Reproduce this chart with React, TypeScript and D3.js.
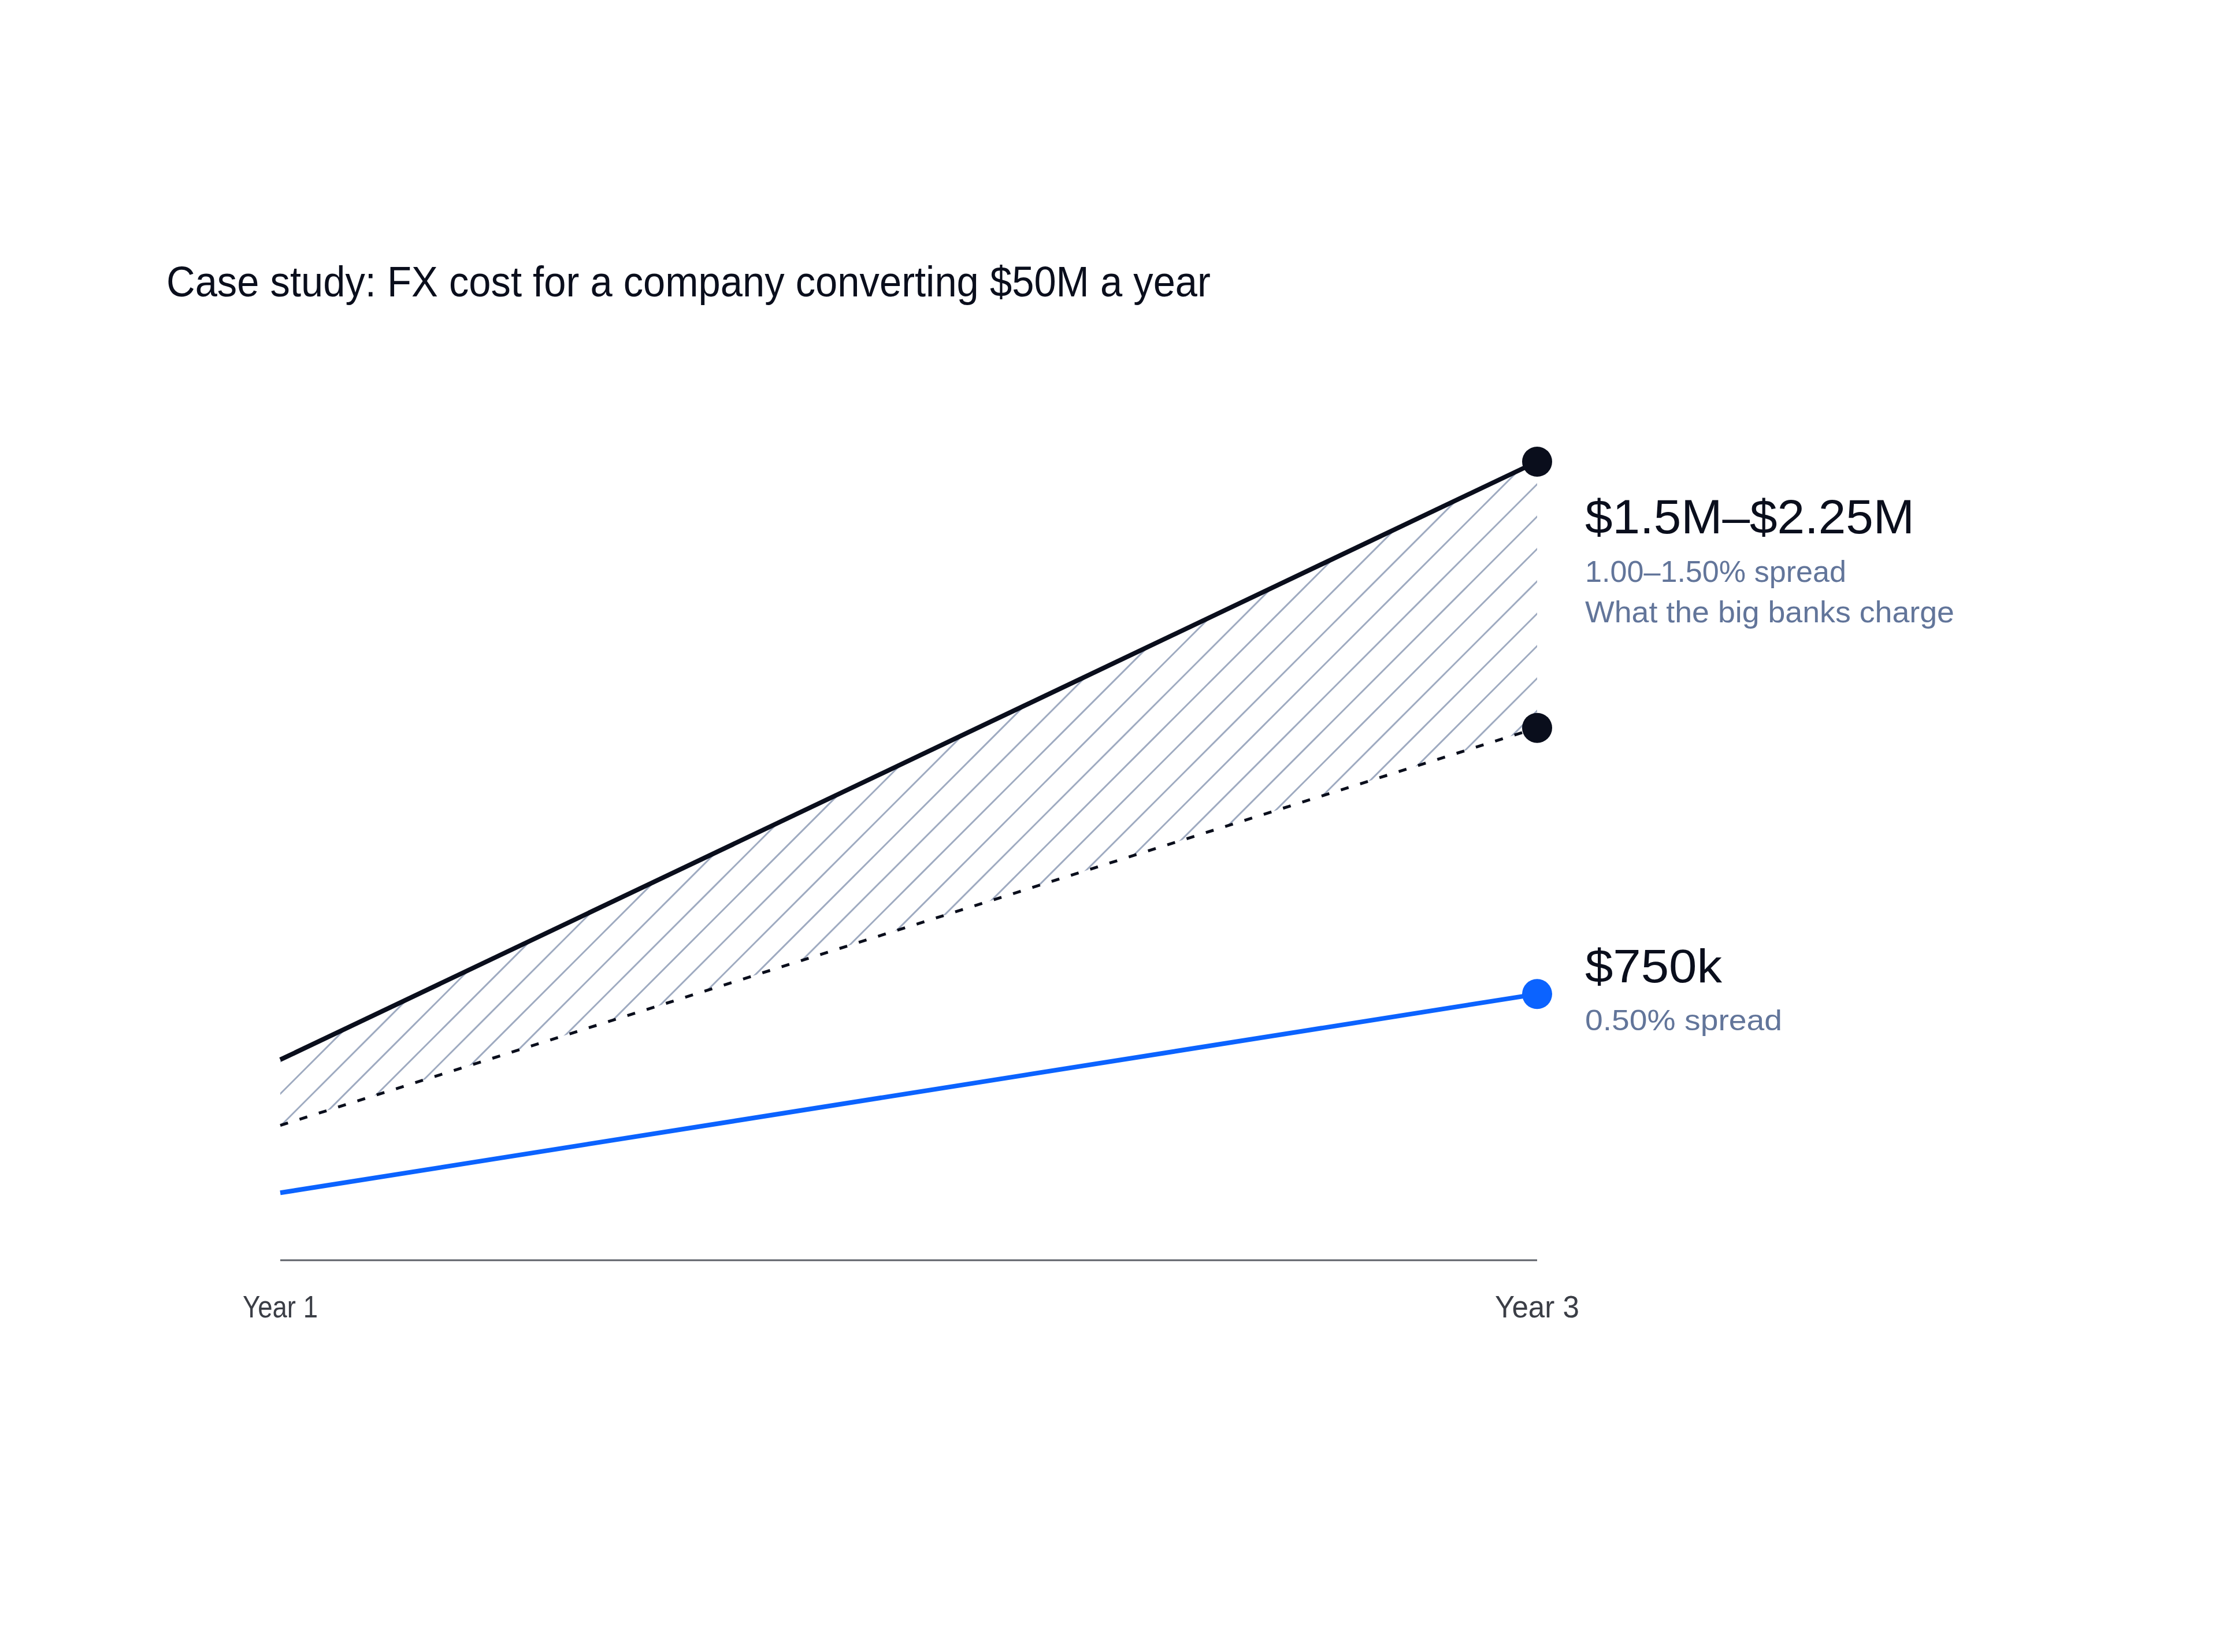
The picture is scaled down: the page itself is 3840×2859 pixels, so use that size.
import * as d3 from 'd3';

const years = ['Year 1', 'Year 3'];
// cumulative FX cost, $M
const bankHigh = [0.565, 2.25];
const bankLow = [0.38, 1.5];
const ourCost = [0.19, 0.75];

const title = 'Case study: FX cost for a company converting $50M a year';
const bankHeadline = '$1.5M–$2.25M';
const bankNotes = ['1.00–1.50% spread', 'What the big banks charge'];
const ourHeadline = '$750k';
const ourNotes = ['0.50% spread'];

const W = 3840;
const H = 2859;
const INK = '#0a0e1c';
const SLATE = '#62759a';
const HATCH = '#9eaac0';
const BLUE = '#0b63ff';
const FONT = '"Liberation Sans", Arial, sans-serif';

export default function App() {
  const x = d3.scalePoint<string>().domain(years).range([485, 2660]);
  const y = d3.scaleLinear().domain([0, 2.25]).range([2181, 799]);

  const pts = (vals: number[]) => years.map((yr, i) => [x(yr) as number, y(vals[i])] as [number, number]);
  const line = d3.line();
  const band = d3
    .area<number>()
    .x((_, i) => x(years[i]) as number)
    .y0((_, i) => y(bankLow[i]))
    .y1((d) => y(d));

  const x0 = x(years[0]) as number;
  const x1 = x(years[years.length - 1]) as number;
  const lastI = years.length - 1;

  // 45deg hatch lines, clipped to the band
  const hatchOffsets = d3.range(2378 - 56 * 20, 2378 + 56 * 50, 56);

  return (
    <svg
      width={W}
      height={H}
      viewBox={`0 0 ${W} ${H}`}
      style={{ position: 'absolute', left: 0, top: 0, background: '#fff' }}
      fontFamily={FONT}
    >
      <defs>
        <clipPath id="band-clip">
          <path d={band(bankHigh) ?? ''} />
        </clipPath>
      </defs>

      <text x={288} y={513} fontSize={75} fill={INK} textLength={1807} lengthAdjust="spacingAndGlyphs">
        {title}
      </text>

      <g clipPath="url(#band-clip)">
        {hatchOffsets.map((c) => (
          <line key={c} x1={x0 - 20} y1={c - x0 + 20} x2={x1 + 20} y2={c - x1 - 20} stroke={HATCH} strokeWidth={3} />
        ))}
      </g>

      <line x1={x0} x2={x1} y1={y(0)} y2={y(0)} stroke="#5d6068" strokeWidth={3} />

      <path d={line(pts(bankLow)) ?? ''} fill="none" stroke={INK} strokeWidth={5} strokeDasharray="14 21" />
      <path d={line(pts(bankHigh)) ?? ''} fill="none" stroke={INK} strokeWidth={8} />
      <path d={line(pts(ourCost)) ?? ''} fill="none" stroke={BLUE} strokeWidth={8} />

      <circle cx={x1} cy={y(bankHigh[lastI])} r={26} fill={INK} />
      <circle cx={x1} cy={y(bankLow[lastI])} r={26} fill={INK} />
      <circle cx={x1} cy={y(ourCost[lastI])} r={26} fill={BLUE} />

      <text x={2743} y={923} fontSize={84} fill={INK} textLength={570} lengthAdjust="spacingAndGlyphs">
        {bankHeadline}
      </text>
      <text x={2743} y={1007} fontSize={52} fill={SLATE} textLength={452} lengthAdjust="spacingAndGlyphs">
        {bankNotes[0]}
      </text>
      <text x={2743} y={1077} fontSize={52} fill={SLATE} textLength={639} lengthAdjust="spacingAndGlyphs">
        {bankNotes[1]}
      </text>

      <text x={2743} y={1700} fontSize={81} fill={INK} textLength={237} lengthAdjust="spacingAndGlyphs">
        {ourHeadline}
      </text>
      <text x={2743} y={1783} fontSize={50} fill={SLATE} textLength={341} lengthAdjust="spacingAndGlyphs">
        {ourNotes[0]}
      </text>

      {years.map((yr, i) => (
        <text
          key={yr}
          x={x(yr)}
          y={2280}
          fontSize={54}
          fill="#3b3e46"
          textAnchor="middle"
          textLength={i === 0 ? 130 : 146}
          lengthAdjust="spacingAndGlyphs"
        >
          {yr}
        </text>
      ))}
    </svg>
  );
}
